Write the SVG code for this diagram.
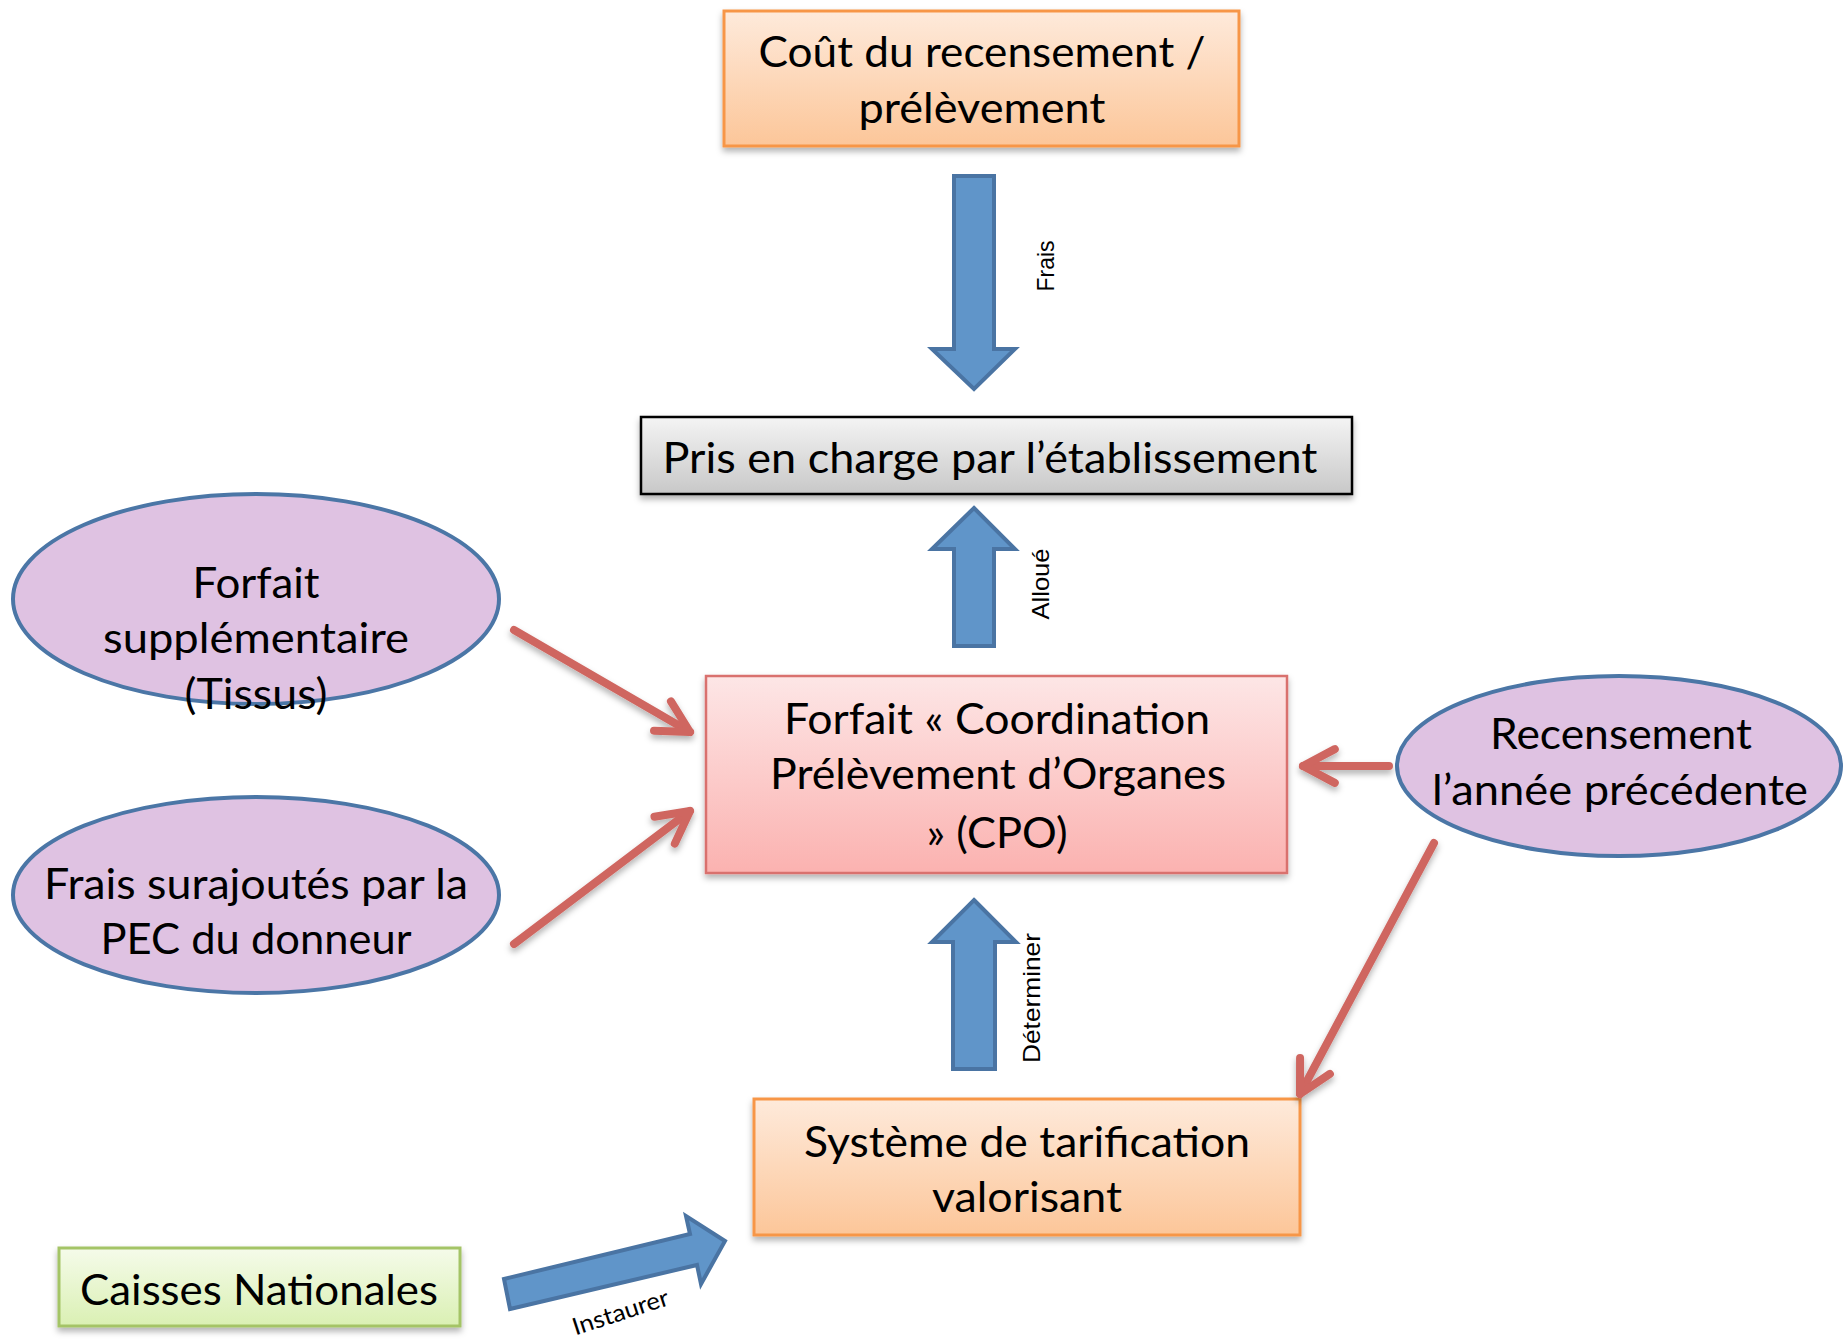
<svg xmlns="http://www.w3.org/2000/svg" width="1843" height="1339" viewBox="0 0 1843 1339">
  <style>
    .t { font-family: Lato, "Open Sans", "Liberation Sans", sans-serif; font-size: 43px; fill: #000; text-anchor: middle; }
    .lbl { font-family: "Liberation Sans", Arial, sans-serif; font-size: 24px; fill: #000; text-anchor: middle; }
    .lbl2 { font-family: Lato, "Liberation Sans", sans-serif; font-size: 24px; fill: #000; text-anchor: middle; }
    .ell { fill: #dfc2e2; stroke: #4b76a6; stroke-width: 4; }
    .blue { fill: #6095c9; stroke: #4a74a3; stroke-width: 4; stroke-linejoin: miter; }
    .red { fill: none; stroke: #cf6660; stroke-width: 8; stroke-linecap: round; }
  </style>
  <defs>
    <linearGradient id="gOrange" x1="0" y1="0" x2="0" y2="1">
      <stop offset="0" stop-color="#feeadb"/>
      <stop offset="1" stop-color="#fcc699"/>
    </linearGradient>
    <linearGradient id="gGray" x1="0" y1="0" x2="0" y2="1">
      <stop offset="0" stop-color="#f4f4f4"/>
      <stop offset="1" stop-color="#c8c8c8"/>
    </linearGradient>
    <linearGradient id="gPink" x1="0" y1="0" x2="0" y2="1">
      <stop offset="0" stop-color="#fde6e6"/>
      <stop offset="1" stop-color="#fbb2b0"/>
    </linearGradient>
    <linearGradient id="gGreen" x1="0" y1="0" x2="0" y2="1">
      <stop offset="0" stop-color="#f5fbea"/>
      <stop offset="1" stop-color="#daf0b3"/>
    </linearGradient>
    <filter id="sh" x="-10%" y="-10%" width="120%" height="130%">
      <feDropShadow dx="0" dy="4" stdDeviation="3" flood-color="#000" flood-opacity="0.3"/>
    </filter>
    <marker id="vhead" markerUnits="userSpaceOnUse" markerWidth="60" markerHeight="60" refX="0" refY="0" orient="auto" overflow="visible" viewBox="-40 -30 50 60">
      <path d="M -31.8 -16.9 L 0 0 L -31.8 16.9" fill="none" stroke="#cf6660" stroke-width="8" stroke-linecap="round" stroke-linejoin="round"/>
    </marker>
  </defs>

  <g id="node-cout">
    <rect x="724" y="11" width="515" height="135" fill="url(#gOrange)" stroke="#f79646" stroke-width="3" filter="url(#sh)"/>
    <text class="t" x="982" y="67" textLength="447" lengthAdjust="spacingAndGlyphs">Coût du recensement /</text>
    <text class="t" x="982" y="123" textLength="247" lengthAdjust="spacingAndGlyphs">prélèvement</text>
  </g>

  <g id="node-pris">
    <rect x="641" y="417" width="711" height="77" fill="url(#gGray)" stroke="#000" stroke-width="2.5" filter="url(#sh)"/>
    <text class="t" x="990" y="473" textLength="655" lengthAdjust="spacingAndGlyphs">Pris en charge par l’établissement</text>
  </g>

  <g id="node-cpo">
    <rect x="706" y="676" width="581" height="197" fill="url(#gPink)" stroke="#d9716e" stroke-width="2.5" filter="url(#sh)"/>
    <text class="t" x="997" y="734" textLength="426" lengthAdjust="spacingAndGlyphs">Forfait « Coordination</text>
    <text class="t" x="998" y="789" textLength="456" lengthAdjust="spacingAndGlyphs">Prélèvement d’Organes</text>
    <text class="t" x="997" y="848" textLength="141" lengthAdjust="spacingAndGlyphs">» (CPO)</text>
  </g>

  <g id="node-systeme">
    <rect x="754" y="1099" width="546" height="136" fill="url(#gOrange)" stroke="#f79646" stroke-width="3" filter="url(#sh)"/>
    <text class="t" x="1027" y="1157" textLength="446" lengthAdjust="spacingAndGlyphs">Système de tarification</text>
    <text class="t" x="1027" y="1212" textLength="190" lengthAdjust="spacingAndGlyphs">valorisant</text>
  </g>

  <g id="node-caisses">
    <rect x="59" y="1248" width="401" height="78" fill="url(#gGreen)" stroke="#a4c466" stroke-width="3" filter="url(#sh)"/>
    <text class="t" x="259" y="1305" textLength="358" lengthAdjust="spacingAndGlyphs">Caisses Nationales</text>
  </g>

  <g id="node-forfait-supp">
    <ellipse class="ell" cx="256" cy="599" rx="243" ry="105"/>
    <text class="t" x="256" y="598" textLength="127" lengthAdjust="spacingAndGlyphs">Forfait</text>
    <text class="t" x="256" y="653" textLength="306" lengthAdjust="spacingAndGlyphs">supplémentaire</text>
    <text class="t" x="256" y="709" textLength="143" lengthAdjust="spacingAndGlyphs">(Tissus)</text>
  </g>

  <g id="node-frais-pec">
    <ellipse class="ell" cx="256" cy="895" rx="243" ry="98"/>
    <text class="t" x="256" y="899" textLength="424" lengthAdjust="spacingAndGlyphs">Frais surajoutés par la</text>
    <text class="t" x="256" y="954" textLength="311" lengthAdjust="spacingAndGlyphs">PEC du donneur</text>
  </g>

  <g id="node-recensement">
    <ellipse class="ell" cx="1619" cy="766" rx="222" ry="90"/>
    <text class="t" x="1621" y="749" textLength="262" lengthAdjust="spacingAndGlyphs">Recensement</text>
    <text class="t" x="1620" y="805" textLength="376" lengthAdjust="spacingAndGlyphs">l’année précédente</text>
  </g>

  <g id="connectors">
    <!-- blue block arrows -->
    <polygon class="blue" points="954,176 994,176 994,349 1015,349 974,389 932,349 954,349"/>
    <text class="lbl" transform="translate(1054,266) rotate(-90)" textLength="51" lengthAdjust="spacingAndGlyphs">Frais</text>

    <polygon class="blue" points="974,508 1015,549 994,549 994,646 954,646 954,549 932,549"/>
    <text class="lbl" transform="translate(1049,584) rotate(-90)" textLength="71" lengthAdjust="spacingAndGlyphs">Alloué</text>

    <polygon class="blue" points="974,900 1016,942 995,942 995,1069 953,1069 953,942 932,942"/>
    <text class="lbl" transform="translate(1040,998) rotate(-90)" textLength="130" lengthAdjust="spacingAndGlyphs">Déterminer</text>

    <polygon class="blue" points="504,1279 690,1234 686,1216 725,1241 701,1284 697,1265 510,1309"/>
    <text class="lbl2" transform="translate(623,1320) rotate(-18)" textLength="100" lengthAdjust="spacingAndGlyphs">Instaurer</text>

    <!-- red arrows -->
    <g filter="url(#sh)">
      <line class="red" x1="514" y1="630" x2="690" y2="732" marker-end="url(#vhead)"/>
      <line class="red" x1="514" y1="944" x2="690" y2="811" marker-end="url(#vhead)"/>
      <line class="red" x1="1389" y1="766" x2="1303" y2="766" marker-end="url(#vhead)"/>
      <line class="red" x1="1434" y1="843" x2="1300" y2="1094" marker-end="url(#vhead)"/>
    </g>
  </g>
</svg>
